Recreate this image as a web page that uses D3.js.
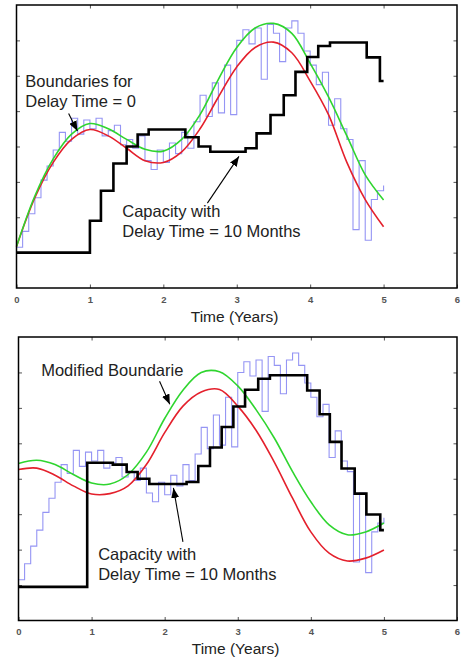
<!DOCTYPE html>
<html>
<head>
<meta charset="utf-8">
<script src="https://cdn.jsdelivr.net/npm/d3@7"></script>
<style>
	html, body { margin: 0; padding: 0; background: #fff; }
	svg { display: block; font-family: 'Liberation Sans', Arial, sans-serif; }
	.note { font-size: 16.5px; fill: #222; }
	.axis-title { font-size: 15.5px; fill: #222; }
	.tick text { font-size: 9.5px; font-weight: bold; fill: #555; }
	.tick line { stroke: #555; }
</style>
</head>
<body>
<svg id="chart" width="465" height="661"></svg>
<script>
const TIME_TICKS = [0, 1, 2, 3, 4, 5, 6];
const LEVEL_TICKS = [1, 2, 3, 4, 5, 6, 7];

// sample years for the smooth boundary curves
const SAMPLE_YEARS = [0, 0.25, 0.5, 0.75, 1, 1.25, 1.5, 1.75, 2, 2.25, 2.5,
	2.75, 3, 3.25, 3.5, 3.75, 4, 4.25, 4.5, 4.75, 5];

// top panel boundaries (delay time = 0)
const TOP_UPPER = [1.17, 2.6, 3.65, 4.35, 4.65, 4.5, 4.2, 3.92, 3.87, 4.2, 4.9,
	5.9, 6.8, 7.35, 7.48, 7.2, 6.35, 5.4, 4.3, 3.2, 2.49];
const TOP_LOWER = [1.17, 2.55, 3.55, 4.2, 4.48, 4.3, 3.95, 3.6, 3.55, 3.85, 4.5,
	5.4, 6.25, 6.8, 6.95, 6.65, 5.85, 4.9, 3.55, 2.5, 1.73];

// bottom panel, modified boundaries
const BOTTOM_UPPER = [4.43, 4.52, 4.4, 4.12, 3.88, 3.85, 4.12, 4.75, 5.7, 6.5, 7.0,
	7.02, 6.62, 5.95, 5.15, 4.2, 3.35, 2.7, 2.42, 2.5, 2.75];
const BOTTOM_LOWER = [4.26, 4.3, 4.1, 3.8, 3.57, 3.58, 3.8, 4.4, 5.3, 6.05, 6.45,
	6.52, 6.05, 5.37, 4.47, 3.45, 2.5, 1.9, 1.68, 1.76, 1.99];

// monthly demand (blue steps), same in both panels
const DEMAND = [1.15, 1.6, 2.1, 2.55, 3.05, 3.45, 3.9, 4.4, 4.15, 4.8, 4.35, 4.75,
	4.5, 4.8, 4.3, 4.45, 4.6, 4.05, 4.2, 3.95, 4.3, 3.6, 3.35, 3.9,
	3.55, 4.1, 3.8, 4.4, 3.95, 4.7, 5.45, 4.85, 5.8, 4.95, 6.3, 4.9,
	7.0, 7.3, 6.9, 7.35, 5.9, 7.45, 7.2, 6.4, 7.35, 7.55, 7.2, 6.7,
	6.3, 5.75, 6.1, 4.6, 5.35, 4.5, 4.2, 1.65, 3.6, 1.35, 2.5, 2.75, 2.9];
const DEMAND_YEARS = d3.range(DEMAND.length).map(m => m / 12);

// capacity with delay time = 10 months (black steps)
const TOP_CAP_YEARS = [0, 1.0, 1.15, 1.32, 1.5, 1.65, 1.8, 2.3, 2.48, 2.64, 3.12,
	3.27, 3.46, 3.64, 3.8, 3.96, 4.11, 4.27, 4.77, 4.95, 5.0];
const TOP_CAP = [1.0, 1.9, 2.75, 3.52, 4.0, 4.34, 4.48, 4.26, 4.0, 3.85, 3.95,
	4.37, 4.89, 5.45, 6.11, 6.53, 6.84, 6.94, 6.52, 5.85, 5.85];
const BOTTOM_CAP_YEARS = [0, 0.94, 1.29, 1.48, 1.63, 1.79, 2.3, 2.46, 2.62, 2.78,
	2.94, 3.1, 3.28, 3.44, 3.95, 4.12, 4.26, 4.42, 4.6, 4.76, 4.95, 5.0];
const BOTTOM_CAP = [0.95, 4.45, 4.4, 4.19, 4.0, 3.85, 3.91, 4.36, 4.88, 5.46,
	6.04, 6.51, 6.82, 6.92, 6.49, 5.82, 5.04, 4.29, 3.58, 2.99, 2.55, 2.55];

const TOP_NOTES = [
	{ t: 0.12, v: 5.67, lines: ['Boundaries for', 'Delay Time = 0'] },
	{ t: 1.44, v: 2.0, lines: ['Capacity with', 'Delay Time = 10 Months'] }
];
const TOP_ARROWS = [
	{ from: [0.71, 4.93], to: [0.83, 4.44] },
	{ from: [2.6, 2.4], to: [3.03, 3.72] }
];
const BOTTOM_NOTES = [
	{ t: 0.31, v: 6.9, lines: ['Modified Boundarie'] },
	{ t: 1.09, v: 1.70, lines: ['Capacity with', 'Delay Time = 10 Months'] }
];
const BOTTOM_ARROWS = [
	{ from: [1.93, 6.75], to: [2.07, 6.1] },
	{ from: [2.25, 2.22], to: [2.12, 3.74] }
];

const COLORS = {
	demand: '#9595f4',
	upper: '#2fd52f',
	lower: '#e4202c',
	capacity: '#000'
};
const LINE_HEIGHT = 20;

const svg = d3.select('#chart');

svg.append('defs')
	.append('marker')
	.attr('id', 'head')
	.attr('markerUnits', 'userSpaceOnUse')
	.attr('markerWidth', 11)
	.attr('markerHeight', 8)
	.attr('refX', 10)
	.attr('refY', 4)
	.attr('orient', 'auto')
	.append('path')
	.attr('d', 'M0,0 L10,4 L0,8 Z')
	.attr('fill', '#000');

function zip(xs, ys) {
	return xs.map((x, i) => ({ t: x, v: ys[i] }));
}

function drawPanel(p) {
	const x = d3.scaleLinear().domain([0, 6]).range([p.left, p.right]);
	const y = d3.scaleLinear().domain([0, 8]).range([p.bottom, p.top]);
	const g = svg.append('g');

	const smooth = d3.line()
		.x(d => x(d.t))
		.y(d => y(d.v))
		.curve(d3.curveCatmullRom.alpha(0.5));
	const step = d3.line()
		.x(d => x(d.t))
		.y(d => y(d.v))
		.curve(d3.curveStepAfter);

	// ticks, inward on all four sides
	g.append('g')
		.attr('transform', `translate(0, ${p.bottom})`)
		.call(d3.axisBottom(x).tickValues(TIME_TICKS).tickSizeInner(-3.5).tickPadding(8).tickFormat(d3.format('d')))
		.call(a => a.select('.domain').remove());
	g.append('g')
		.attr('transform', `translate(0, ${p.top})`)
		.call(d3.axisTop(x).tickValues(TIME_TICKS.slice(1, -1)).tickSizeInner(-3.5).tickFormat(''))
		.call(a => a.select('.domain').remove());
	g.append('g')
		.attr('transform', `translate(${p.left}, 0)`)
		.call(d3.axisLeft(y).tickValues(LEVEL_TICKS).tickSizeInner(-3.5).tickFormat(''))
		.call(a => a.select('.domain').remove());
	g.append('g')
		.attr('transform', `translate(${p.right}, 0)`)
		.call(d3.axisRight(y).tickValues(LEVEL_TICKS).tickSizeInner(-3.5).tickFormat(''))
		.call(a => a.select('.domain').remove());

	g.append('path')
		.datum(zip(DEMAND_YEARS, DEMAND))
		.attr('d', step)
		.attr('fill', 'none')
		.attr('stroke', COLORS.demand)
		.attr('stroke-width', 1.1);

	g.append('path')
		.datum(zip(SAMPLE_YEARS, p.lower))
		.attr('d', smooth)
		.attr('fill', 'none')
		.attr('stroke', COLORS.lower)
		.attr('stroke-width', 1.6);

	g.append('path')
		.datum(zip(SAMPLE_YEARS, p.upper))
		.attr('d', smooth)
		.attr('fill', 'none')
		.attr('stroke', COLORS.upper)
		.attr('stroke-width', 1.6);

	g.append('path')
		.datum(zip(p.capYears, p.cap))
		.attr('d', step)
		.attr('fill', 'none')
		.attr('stroke', COLORS.capacity)
		.attr('stroke-width', 2.6);

	g.append('rect')
		.attr('x', p.left)
		.attr('y', p.top)
		.attr('width', p.right - p.left)
		.attr('height', p.bottom - p.top)
		.attr('fill', 'none')
		.attr('stroke', '#000')
		.attr('stroke-width', 1.5);

	g.append('text')
		.attr('class', 'axis-title')
		.attr('text-anchor', 'middle')
		.attr('x', x(2.97))
		.attr('y', p.bottom + 33.5)
		.text('Time (Years)');

	p.notes.forEach(n => {
		const text = g.append('text')
			.attr('class', 'note')
			.attr('x', x(n.t))
			.attr('y', y(n.v));
		n.lines.forEach((line, i) => {
			text.append('tspan')
				.attr('x', x(n.t))
				.attr('dy', i === 0 ? 0 : LINE_HEIGHT)
				.text(line);
		});
	});

	p.arrows.forEach(a => {
		g.append('line')
			.attr('x1', x(a.from[0]))
			.attr('y1', y(a.from[1]))
			.attr('x2', x(a.to[0]))
			.attr('y2', y(a.to[1]))
			.attr('stroke', '#000')
			.attr('stroke-width', 1.1)
			.attr('marker-end', 'url(#head)');
	});
}

drawPanel({
	left: 16.5, right: 457, top: 5, bottom: 288,
	upper: TOP_UPPER, lower: TOP_LOWER,
	capYears: TOP_CAP_YEARS, cap: TOP_CAP,
	notes: TOP_NOTES, arrows: TOP_ARROWS
});

drawPanel({
	left: 18.5, right: 457, top: 337, bottom: 620.5,
	upper: BOTTOM_UPPER, lower: BOTTOM_LOWER,
	capYears: BOTTOM_CAP_YEARS, cap: BOTTOM_CAP,
	notes: BOTTOM_NOTES, arrows: BOTTOM_ARROWS
});
</script>
</body>
</html>
